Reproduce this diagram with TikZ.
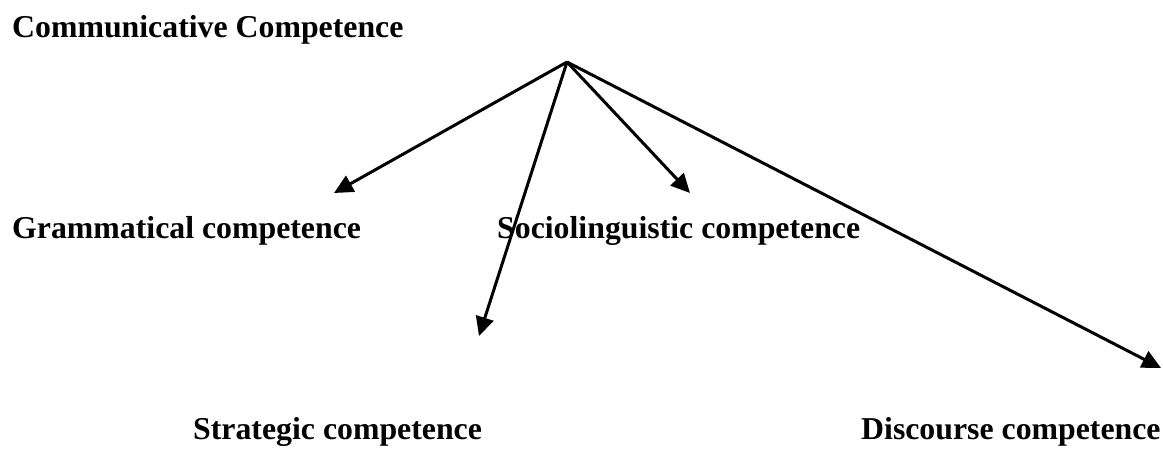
\documentclass[tikz,border=0pt]{standalone}
\usepackage{fontspec}
\setmainfont{Liberation Serif}
\usetikzlibrary{arrows.meta}
\begin{document}
\begin{tikzpicture}[x=1pt,y=-1pt,
  lbl/.style={anchor=base west,inner sep=0pt,font=\fontsize{31.8}{36}\selectfont\bfseries},
  conn/.style={line width=3pt,-{Triangle[length=19pt,width=18pt]}}]
\useasboundingbox (0,0) rectangle (1163,448);
\node[lbl] (cc) at (12,37) {Communicative Competence};
\node[lbl] (gc) at (12,238) {Grammatical competence};
\node[lbl] (sc) at (497,238) {Sociolinguistic competence};
\node[lbl] (st) at (193,439) {Strategic competence};
\node[lbl] (dc) at (861,439) {Discourse competence};
\coordinate (apex) at (567,62);
\coordinate (tg) at (334,193);
\coordinate (ts) at (690,193);
\coordinate (tst) at (479,336);
\coordinate (td) at (1161,368);
\draw[conn] (apex) -- (tg);
\draw[conn] (apex) -- (ts);
\draw[conn] (apex) -- (tst);
\draw[conn] (apex) -- (td);
\end{tikzpicture}
\end{document}
